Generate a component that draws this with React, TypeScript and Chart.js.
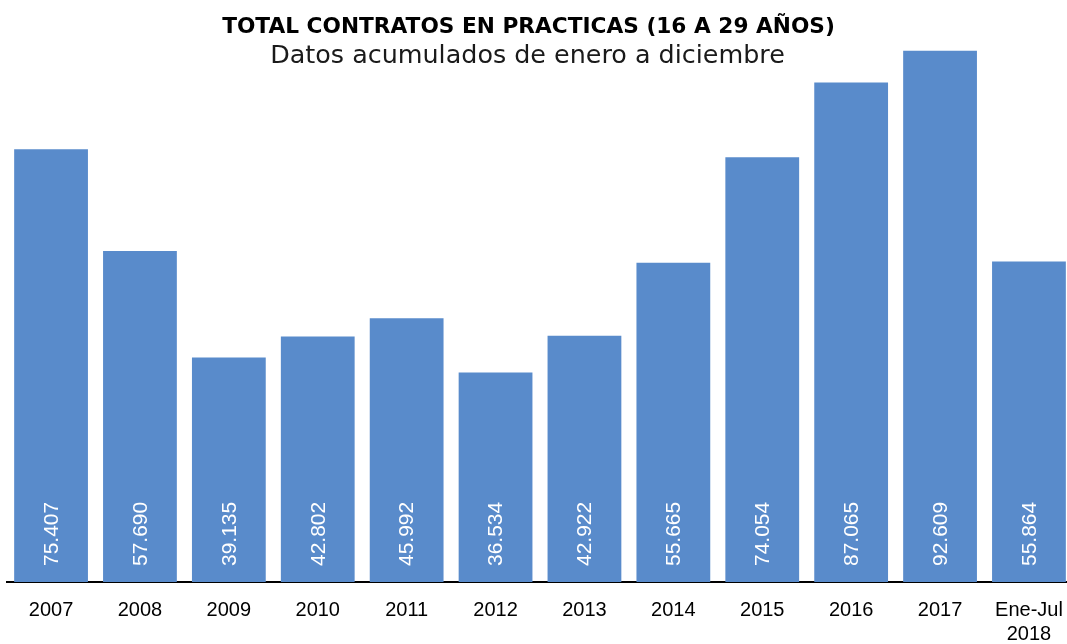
import React, { useEffect, useRef } from "react";
import { Chart, registerables } from "chart.js";

Chart.register(...registerables);

const categories: (string | string[])[] = [
  "2007", "2008", "2009", "2010", "2011", "2012",
  "2013", "2014", "2015", "2016", "2017", ["Ene-Jul", "2018"],
];
const values: number[] = [
  75407, 57690, 39135, 42802, 45992, 36534,
  42922, 55665, 74054, 87065, 92609, 55864,
];
const titleText = "TOTAL CONTRATOS EN PRACTICAS (16 A 29 AÑOS)";
const subtitleText = "Datos acumulados de enero a diciembre";

const BAR_COLOR = "#598BCB";
const FONT = '"Liberation Sans", Arial, sans-serif';
const TITLE_FONT = '"DejaVu Sans", sans-serif';

function fmt(v: number): string {
  const s = String(Math.round(v));
  return s.replace(/\B(?=(\d{3})+(?!\d))/g, ".");
}

function fitFont(ctx: CanvasRenderingContext2D, text: string, weight: string, family: string, target: number): string {
  ctx.font = `${weight} 20px ${family}`;
  const w = ctx.measureText(text).width;
  const size = (20 * target) / w;
  return `${weight} ${size.toFixed(2)}px ${family}`;
}

const overlayPlugin = {
  id: "overlayText",
  afterDatasetsDraw(chart: any) {
    const ctx: CanvasRenderingContext2D = chart.ctx;
    const meta = chart.getDatasetMeta(0);
    const bottom = chart.chartArea.bottom;
    ctx.save();
    ctx.fillStyle = "#ffffff";
    ctx.font = `21px ${FONT}`;
    meta.data.forEach((bar: any, i: number) => {
      ctx.save();
      ctx.translate(bar.x + 1, bottom - 16);
      ctx.rotate(-Math.PI / 2);
      ctx.textAlign = "left";
      ctx.textBaseline = "middle";
      ctx.fillText(fmt(values[i]), 0, 0);
      ctx.restore();
    });
    ctx.restore();

    ctx.save();
    ctx.fillStyle = "#000000";
    ctx.textAlign = "center";
    ctx.textBaseline = "alphabetic";
    ctx.font = fitFont(ctx, titleText, "bold", TITLE_FONT, 613);
    ctx.fillText(titleText, 528.5, 33);
    ctx.fillStyle = "#1a1a1a";
    ctx.font = fitFont(ctx, subtitleText, "normal", TITLE_FONT, 515);
    ctx.fillText(subtitleText, 527.5, 63);
    ctx.restore();
  },
};

export default function App() {
  const canvasRef = useRef<HTMLCanvasElement | null>(null);

  useEffect(() => {
    const canvas = canvasRef.current;
    if (!canvas) return;
    const chart = new Chart(canvas, {
      type: "bar",
      data: {
        labels: categories,
        datasets: [
          {
            data: values,
            backgroundColor: BAR_COLOR,
            borderWidth: 0,
            categoryPercentage: 1,
            barPercentage: 0.83,
          },
        ],
      },
      options: {
        responsive: false,
        animation: false,
        devicePixelRatio: 1,
        layout: { padding: { left: 6.6, right: 6.6, top: 10, bottom: 0 } },
        plugins: {
          legend: { display: false },
          title: { display: false },
          tooltip: { enabled: false },
        },
        scales: {
          x: {
            grid: { display: false, drawTicks: false },
            border: { display: true, color: "#000000", width: 2 },
            ticks: {
              color: "#000000",
              font: { family: FONT, size: 20 },
              padding: 16,
              maxRotation: 0,
              autoSkip: false,
            },
            afterFit: (scale: any) => {
              scale.height = 62;
            },
          },
          y: {
            display: false,
            min: 0,
            max: 99700,
          },
        },
      },
      plugins: [overlayPlugin],
    });
    return () => chart.destroy();
  }, []);

  return (
    <div
      style={{
        position: "absolute",
        left: 0,
        top: 0,
        width: 1067,
        height: 644,
        overflow: "hidden",
        background: "#ffffff",
      }}
    >
      <canvas ref={canvasRef} width={1080} height={644} style={{ display: "block" }} />
    </div>
  );
}
